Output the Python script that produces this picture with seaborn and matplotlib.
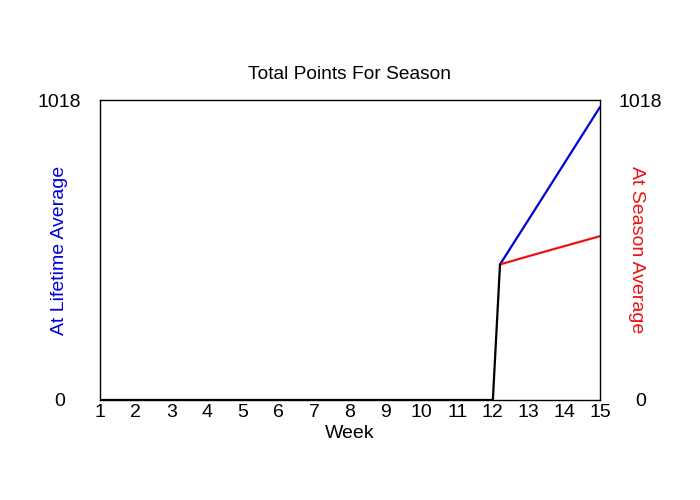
import matplotlib
matplotlib.use('Agg')
import matplotlib.pyplot as plt
import seaborn as sns
import pandas as pd

# dados
weeks_actual = [1, 2, 3, 4, 5, 6, 7, 8, 9, 10, 11, 12, 12.2]
points_actual = [0, 0, 0, 0, 0, 0, 0, 0, 0, 0, 0, 0, 460]
weeks_proj = [12.2, 13, 14, 15]
points_lifetime = [460, 612, 803, 994]
points_season = [460, 488, 522, 556]
y_max = 1018

sns.set_style('white')
plt.rcParams['font.family'] = ['Liberation Sans', 'DejaVu Sans']
plt.rcParams['text.color'] = 'black'
plt.rcParams['xtick.color'] = 'black'
plt.rcParams['ytick.color'] = 'black'
plt.rcParams['axes.labelcolor'] = 'black'

fig = plt.figure(figsize=(7, 5), dpi=100)
ax = fig.add_axes([100 / 700, 0.2, 500 / 700, 0.6])

df_life = pd.DataFrame({'week': weeks_proj, 'pts': points_lifetime})
df_seas = pd.DataFrame({'week': weeks_proj, 'pts': points_season})
df_act = pd.DataFrame({'week': weeks_actual, 'pts': points_actual})

sns.lineplot(data=df_life, x='week', y='pts', color='#0000dd', linewidth=1.6, ax=ax)
sns.lineplot(data=df_seas, x='week', y='pts', color='#ee1111', linewidth=1.6, ax=ax)
sns.lineplot(data=df_act, x='week', y='pts', color='black', linewidth=1.6, ax=ax)

ax.set_xlim(1, 15)
ax.set_ylim(0, y_max)
ax.set_xticks(range(1, 16))
ax.set_xticklabels([str(w) for w in range(1, 16)], fontsize=14)
ax.set_yticks([0, y_max])
ax.set_yticklabels(['0', str(y_max)], fontsize=14)
ax.tick_params(axis='x', length=0, pad=3, labelcolor='black')
ax.tick_params(axis='y', length=0, pad=29, labelcolor='black')
for lbl in ax.get_yticklabels():
    lbl.set_horizontalalignment('center')
ax.set_xlabel('Week', fontsize=14, labelpad=3, color='black')
ax.set_ylabel('At Lifetime Average', fontsize=14, color='#0000dd')
ax.yaxis.label.set_va('center')
ax.yaxis.set_label_coords(-0.08, 0.5)
ax.set_title('Total Points For Season', fontsize=13.8, pad=15, color='black')
for s in ax.spines.values():
    s.set_color('black')
    s.set_linewidth(1)

ax2 = ax.twinx()
ax2.set_ylim(0, y_max)
ax2.set_yticks([0, y_max])
ax2.set_yticklabels(['0', str(y_max)], fontsize=14)
ax2.tick_params(axis='y', length=0, pad=29, labelcolor='black')
for lbl in ax2.get_yticklabels():
    lbl.set_horizontalalignment('center')
ax2.set_ylabel('At Season Average', fontsize=14, color='#ee1111', rotation=270)
ax2.yaxis.label.set_va('center')
ax2.yaxis.set_label_coords(1.074, 0.5)
for s in ax2.spines.values():
    s.set_visible(False)

fig.savefig('out.png', dpi=100)
